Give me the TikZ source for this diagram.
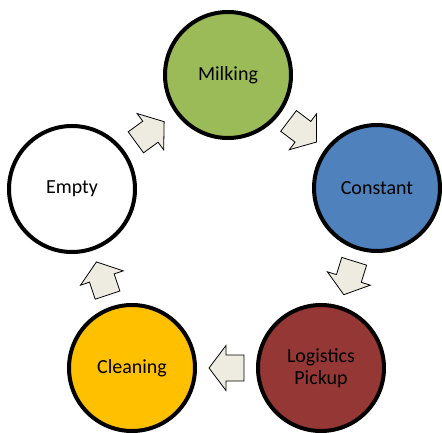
\documentclass[tikz,border=0pt]{standalone}
\usepackage{fontspec}
\setmainfont{Carlito}
\usetikzlibrary{calc}
\definecolor{milkgreen}{HTML}{9BBB59}
\definecolor{constblue}{HTML}{4F81BD}
\definecolor{pickupred}{HTML}{953735}
\definecolor{cleanyellow}{HTML}{FFC000}
\definecolor{arrowfill}{HTML}{EEECE1}
\begin{document}
\begin{tikzpicture}[x=1pt,y=1pt,
  stage/.style={circle, draw=black, line width=4pt, minimum size=126pt,
    inner sep=0pt, font=\fontsize{20}{22}\selectfont, align=center},
  pics/flowarrow/.style={code={
    \draw[fill=arrowfill, draw=black, line width=0.8pt, line join=miter]
      (-17.5,-13) -- (0.5,-13) -- (0.5,-22.5) -- (17.5,0) -- (0.5,22.5)
      -- (0.5,13) -- (-17.5,13) -- cycle;}}
]
\useasboundingbox (0,0) rectangle (442,432);

% the five stages of the cycle
\node[stage, fill=milkgreen]   (milking)   at (228,357) {Milking};
\node[stage, fill=constblue]   (constant)  at (377,244) {Constant};
\node[stage, fill=pickupred]   (logistics) at (321,64)  {Logistics\\Pickup};
\node[stage, fill=cleanyellow] (cleaning)  at (132,64)  {Cleaning};
\node[stage, fill=white]       (empty)     at (72,243)  {Empty};

% block arrows halfway between consecutive stages
\foreach \src/\dst in {empty/milking, milking/constant, constant/logistics,
                       logistics/cleaning, cleaning/empty}
  \path let \p1 = ($(\dst)-(\src)$), \n1 = {atan2(\y1,\x1)} in
    pic[rotate=\n1] at ($(\src)!0.5!(\dst)$) {flowarrow};
\end{tikzpicture}
\end{document}
